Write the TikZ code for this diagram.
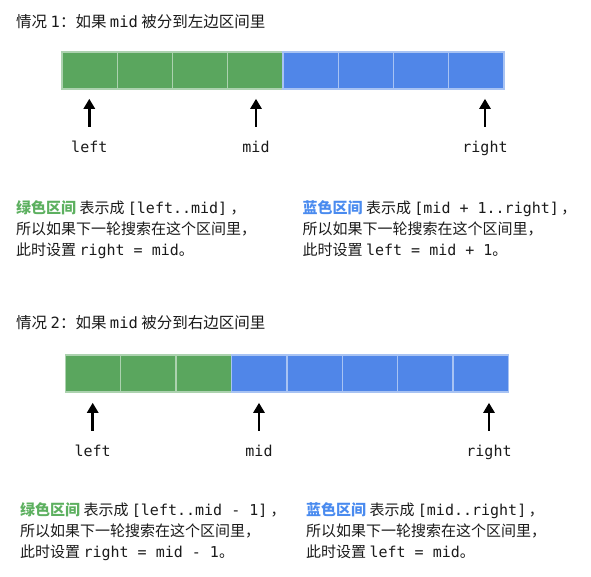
\documentclass[tikz,border=0pt]{standalone}
\usepackage{fontspec}
\setmainfont{Noto Sans CJK SC}
\setmonofont{DejaVu Sans Mono}
\usetikzlibrary{arrows.meta}

\definecolor{cellgreen}{HTML}{5AA65E}
\definecolor{cellblue}{HTML}{5086E8}
\definecolor{taggreen}{HTML}{5DB060}
\definecolor{tagblue}{HTML}{4A8BEF}
\definecolor{ink}{HTML}{1A1A1A}

\tikzset{
  cell/.style={minimum width=55.25pt, minimum height=37pt, inner sep=0pt, outer sep=0pt,
    fill=#1, draw=#1!50!white, line width=1.2pt},
  ptr/.style={-{Triangle[width=11pt,length=10pt]}, line width=2.6pt, draw=black},
  idx/.style={font=\fontsize{15}{17}\selectfont\ttfamily, text=ink, inner sep=0pt,
    text height=10pt, text depth=3pt, anchor=base},
  heading/.style={font=\fontsize{15.5}{17}\selectfont, text=ink, inner sep=0pt, anchor=base west},
  note/.style={font=\fontsize{15}{21}\selectfont, text=ink, inner sep=0pt, align=left, anchor=north west},
}

\begin{document}
\begin{tikzpicture}[x=1pt,y=-1pt]
  \useasboundingbox (0,0) rectangle (591,577);

  % case 1
  \node[heading] (t1) at (16,27.5) {情况 \texttt{1}：如果 \texttt{mid} 被分到左边区间里};
  \foreach \i in {0,...,3}
    \node[cell=cellgreen] (a\i) at (62+55.25*\i+27.625,70.5) {};
  \foreach \i in {4,...,7}
    \node[cell=cellblue] (a\i) at (62+55.25*\i+27.625,70.5) {};
  \node[idx] (l1) at (89.3,153) {left};
  \node[idx] (m1) at (256,153) {mid};
  \node[idx] (r1) at (485,153) {right};
  \foreach \p in {l1,m1,r1}
    \draw[ptr] ([yshift=16pt]\p.north) -- ([yshift=44pt]\p.north);
  \node[note] (g1) at (16,200.5) {{\color{taggreen}\bfseries 绿色区间} 表示成 \texttt{[left..mid]} ，\\所以如果下一轮搜索在这个区间里，\\此时设置 \texttt{right = mid}。};
  \node[note] (b1) at (302.5,200.5) {{\color{tagblue}\bfseries 蓝色区间} 表示成 \texttt{[mid + 1..right]}\,，\\所以如果下一轮搜索在这个区间里，\\此时设置 \texttt{left = mid + 1}。};

  % case 2
  \node[heading] (t2) at (16,328.5) {情况 \texttt{2}：如果 \texttt{mid} 被分到右边区间里};
  \foreach \i in {0,...,2}
    \node[cell=cellgreen] (c\i) at (65.3+55.4*\i+27.7,373.5) {};
  \foreach \i in {3,...,7}
    \node[cell=cellblue] (c\i) at (65.3+55.4*\i+27.7,373.5) {};
  \node[idx] (l2) at (92.7,456) {left};
  \node[idx] (m2) at (259,456) {mid};
  \node[idx] (r2) at (489,456) {right};
  \foreach \p in {l2,m2,r2}
    \draw[ptr] ([yshift=15pt]\p.north) -- ([yshift=43pt]\p.north);
  \node[note] (g2) at (20,502.5) {{\color{taggreen}\bfseries 绿色区间} 表示成 \texttt{[left..mid - 1]} ，\\所以如果下一轮搜索在这个区间里，\\此时设置 \texttt{right = mid - 1}。};
  \node[note] (b2) at (306,502.5) {{\color{tagblue}\bfseries 蓝色区间} 表示成 \texttt{[mid..right]}\,，\\所以如果下一轮搜索在这个区间里，\\此时设置 \texttt{left = mid}。};
\end{tikzpicture}
\end{document}
